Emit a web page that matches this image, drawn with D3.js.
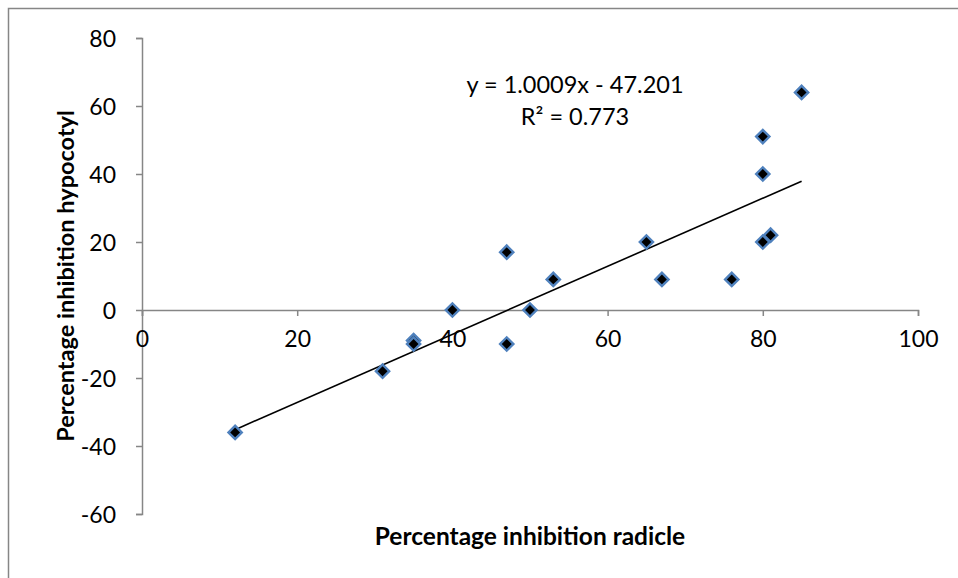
<!DOCTYPE html>
<html><head><meta charset="utf-8">
<script src="https://cdn.jsdelivr.net/npm/d3@7"></script>
<style>body{margin:0;background:#fff;} text{font-family:Lato,"Open Sans",sans-serif;}</style>
</head><body><svg id="c" width="958" height="578"></svg>
<script>
const radicle = [12, 31, 35, 35, 40, 47, 47, 50, 53, 65, 67, 76, 80, 80, 80, 81, 85];
const hypocotyl = [-36, -18, -9, -10, 0, -10, 17, 0, 9, 20, 9, 9, 20, 40, 51, 22, 64];
const xTicks = [0, 20, 40, 60, 80, 100];
const yTicks = [-60, -40, -20, 0, 20, 40, 60, 80];
const slope = 1.0009, intercept = -47.201;
const eqText = "y = 1.0009x - 47.201";
const r2Text = "R² = 0.773";

const svg = d3.select("#c");
const x = d3.scaleLinear().domain([0, 100]).range([142, 918]);
const y = d3.scaleLinear().domain([-60, 80]).range([514, 38]);
const grey = "#868686";
const fmt = d => String(d);

svg.append("path").attr("d", "M8.5,578 V8.5 H958").attr("fill", "none").attr("stroke", grey).attr("stroke-width", 1.5);

const yAxis = svg.append("g").attr("transform", `translate(${x(0)},0)`)
  .call(d3.axisLeft(y).tickValues(yTicks).tickFormat(fmt).tickSize(6).tickPadding(20));
const xAxis = svg.append("g").attr("transform", `translate(0,${y(0)})`)
  .call(d3.axisBottom(x).tickValues(xTicks).tickFormat(fmt).tickSize(6).tickSizeOuter(6).tickPadding(15));
[yAxis, xAxis].forEach(g => {
  g.selectAll("path,line").attr("stroke", grey).attr("stroke-width", 1.5);
  g.selectAll("text").attr("font-size", 23).attr("fill", "#000").attr("font-family", "Lato");
});
yAxis.selectAll("text").attr("dy", "0.35em");
xAxis.selectAll("text").attr("dy", "0.71em");

// trendline
const xmin = d3.min(radicle), xmax = d3.max(radicle);
svg.append("line")
  .attr("x1", x(xmin)).attr("y1", y(slope * xmin + intercept))
  .attr("x2", x(xmax)).attr("y2", y(slope * xmax + intercept))
  .attr("stroke", "#000").attr("stroke-width", 1.6);

svg.append("g").selectAll("path").data(radicle).join("path")
  .attr("transform", (d, i) => `translate(${x(d)},${y(hypocotyl[i])}) rotate(45)`)
  .attr("d", d3.symbol().type(d3.symbolSquare).size(88))
  .attr("fill", "#000").attr("stroke", "#4F81BD").attr("stroke-width", 2.4);

svg.append("text").attr("x", 575).attr("y", 93).attr("text-anchor", "middle")
  .attr("font-size", 23.5).text(eqText);
svg.append("text").attr("x", 575).attr("y", 125).attr("text-anchor", "middle")
  .attr("font-size", 23.5).text(r2Text);

svg.append("text").attr("x", 530).attr("y", 545).attr("text-anchor", "middle")
  .attr("font-size", 24.5).attr("font-weight", "bold").text("Percentage inhibition radicle");
svg.append("text").attr("transform", "translate(74,276) rotate(-90)").attr("text-anchor", "middle")
  .attr("font-size", 23.5).attr("font-weight", "bold").text("Percentage inhibition hypocotyl");
</script></body></html>
